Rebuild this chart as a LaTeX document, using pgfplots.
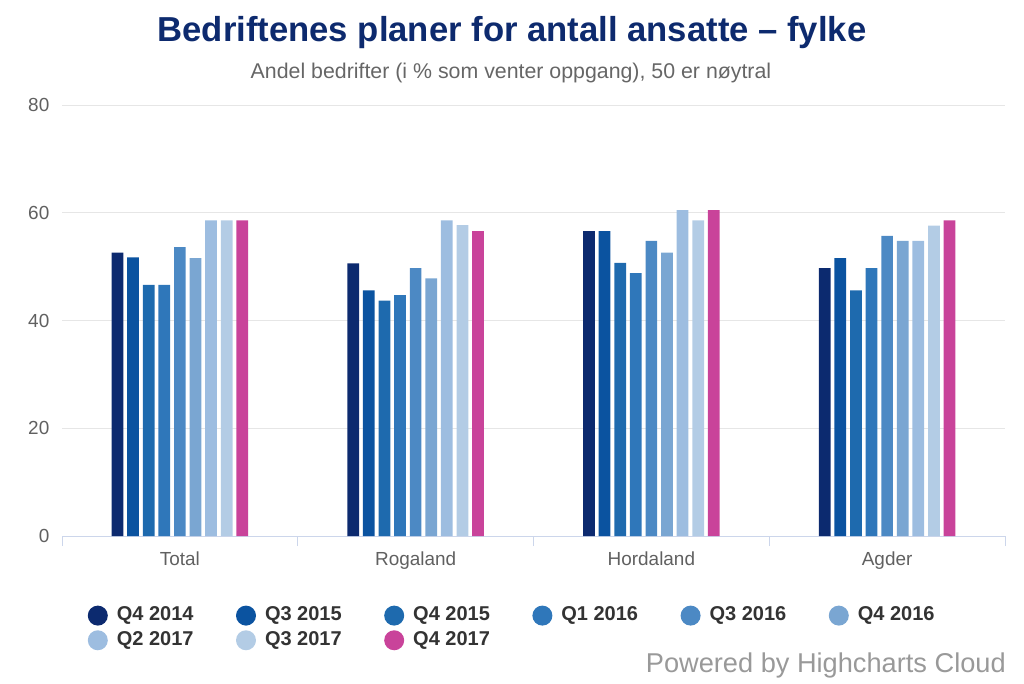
\documentclass[border=0pt]{standalone}
\usepackage{pgfplots}
\pgfplotsset{compat=1.18}
\usepackage{pgfplotstable}
\usepackage{fontspec}
\setmainfont{Liberation Sans}
\definecolor{cA}{HTML}{0C2A6F}
\definecolor{cB}{HTML}{0B53A0}
\definecolor{cC}{HTML}{1E6AAE}
\definecolor{cD}{HTML}{2F77BA}
\definecolor{cE}{HTML}{4C89C4}
\definecolor{cF}{HTML}{7AA6D2}
\definecolor{cG}{HTML}{9DBDE0}
\definecolor{cH}{HTML}{B3CCE5}
\definecolor{cI}{HTML}{C9439A}
\definecolor{titlec}{HTML}{0D2A6E}
\definecolor{subc}{HTML}{666666}
\definecolor{tickc}{HTML}{606060}
\definecolor{gridc}{HTML}{E6E6E6}
\definecolor{axisc}{HTML}{CCD6EB}
\definecolor{legc}{HTML}{333333}
\definecolor{credc}{HTML}{999999}

\pgfplotstableread{
x  a    b    c    d    e    f    g    h    i
0  52.6 51.7 46.6 46.6 53.6 51.6 58.6 58.6 58.6
1  50.6 45.6 43.7 44.7 49.7 47.8 58.6 57.7 56.6
2  56.6 56.6 50.7 48.8 54.8 52.6 60.5 58.6 60.5
3  49.7 51.6 45.6 49.7 55.7 54.8 54.8 57.6 58.6
}\datatable

\newcommand{\lt}[1]{\makebox[89.4pt][l]{#1}}

\begin{document}
\begin{tikzpicture}
\path (0,0) rectangle (768pt,512.25pt);
\node[font=\fontsize{26}{30}\selectfont\bfseries, text=titlec] at (384pt,487.5pt) {Bedriftenes planer for antall ansatte – fylke};
\node[font=\fontsize{16}{19}\selectfont, text=subc] at (383.25pt,457.5pt) {Andel bedrifter (i \% som venter oppgang), 50 er nøytral};
\node[font=\fontsize{20.4}{24}\selectfont, text=credc, anchor=east, inner sep=0pt] at (754.5pt,13.5pt) {Powered by Highcharts Cloud};
\begin{axis}[
  at={(46.5pt,110.25pt)}, anchor=south west,
  scale only axis, width=707.25pt, height=323.25pt,
  ybar=2.95pt, bar width=8.75pt,
  xmin=-0.5, xmax=3.5, ymin=0, ymax=80,
  ytick={0,20,40,60,80},
  xtick={0,1,2,3},
  xticklabels={Total,Rogaland,Hordaland,Agder},
  axis x line*=bottom, axis y line*=left,
  x axis line style={-, draw=axisc, line width=0.75pt},
  y axis line style={draw=none},
  ymajorgrids, major grid style={draw=gridc, line width=0.75pt},
  major tick length=0pt,
  extra x ticks={-0.5,0.5,1.5,2.5,3.5},
  extra x tick labels={},
  extra x tick style={major tick length=7.5pt, tick align=outside, tick style={draw=axisc, line width=0.75pt}},
  tick label style={font=\fontsize{14.2}{17}\selectfont, text=tickc},
  xticklabel style={yshift=-8pt},
  yticklabel style={xshift=-6pt},
  /pgf/number format/assume math mode=true,
  legend columns=6,
  legend image code/.code={\fill[#1, draw=none] (0pt,0pt) circle (7.5pt);},
  legend style={at={(rel axis cs:0,0)}, anchor=north west, xshift=16.15pt, yshift=-50pt,
    draw=none, fill=none, font=\fontsize{15}{18}\selectfont\bfseries, text=legc,
    nodes={inner sep=0pt, text height=11pt, text depth=3pt},
    row sep=3.5pt,
    /tikz/every odd column/.append style={column sep=6.75pt},
    /tikz/every even column/.append style={column sep=0pt}},
  legend cell align=left,
]
\addplot[fill=cA, draw=none] table[x=x,y=a]{\datatable};
\addplot[fill=cB, draw=none] table[x=x,y=b]{\datatable};
\addplot[fill=cC, draw=none] table[x=x,y=c]{\datatable};
\addplot[fill=cD, draw=none] table[x=x,y=d]{\datatable};
\addplot[fill=cE, draw=none] table[x=x,y=e]{\datatable};
\addplot[fill=cF, draw=none] table[x=x,y=f]{\datatable};
\addplot[fill=cG, draw=none] table[x=x,y=g]{\datatable};
\addplot[fill=cH, draw=none] table[x=x,y=h]{\datatable};
\addplot[fill=cI, draw=none] table[x=x,y=i]{\datatable};
\legend{\lt{Q4 2014},\lt{Q3 2015},\lt{Q4 2015},\lt{Q1 2016},\lt{Q3 2016},\lt{Q4 2016},\lt{Q2 2017},\lt{Q3 2017},\lt{Q4 2017}}
\end{axis}
\end{tikzpicture}
\end{document}
